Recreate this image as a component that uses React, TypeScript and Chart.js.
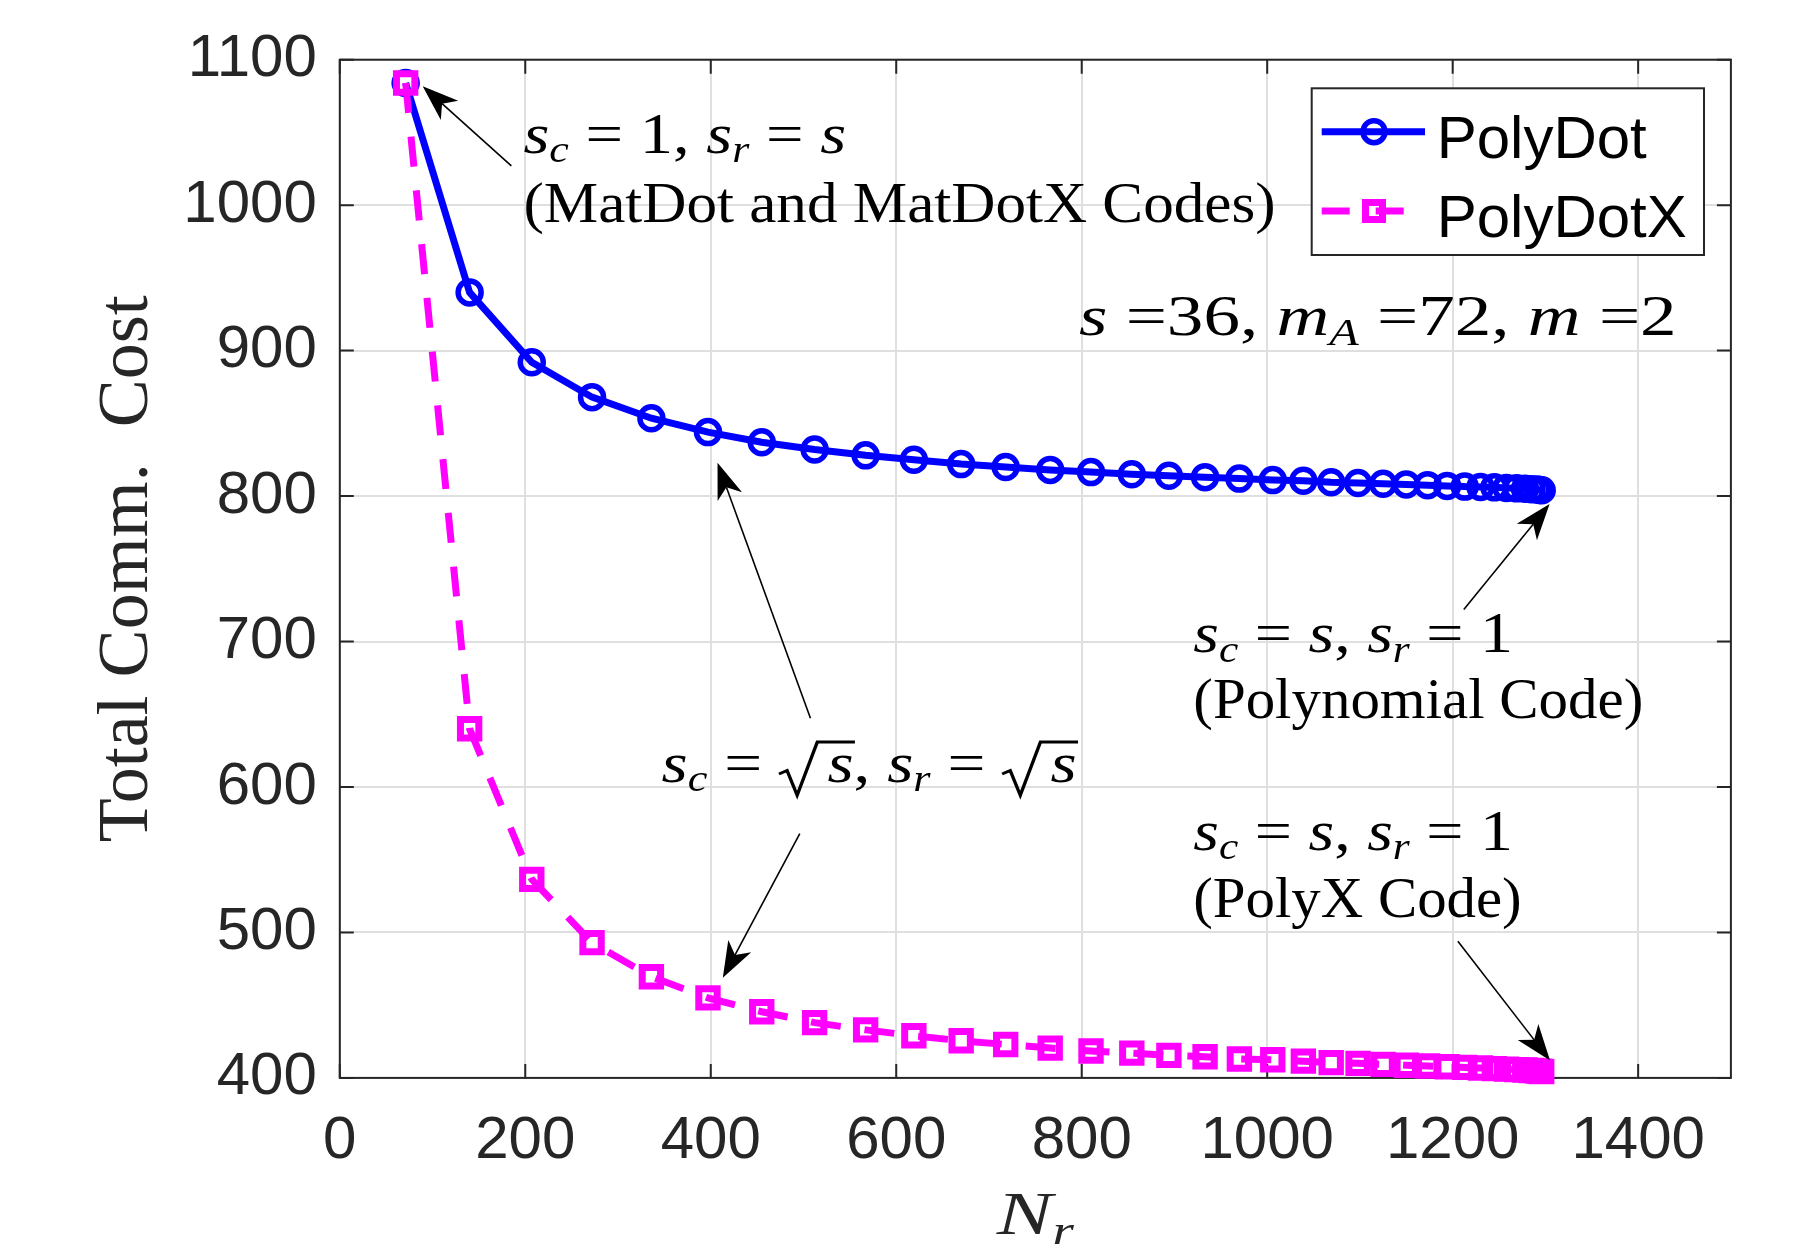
import React, { useEffect, useRef } from 'react';
import { Chart, registerables } from 'chart.js';

Chart.register(...registerables);

// ---------------- data ----------------
const seriesNames = ['PolyDot', 'PolyDotX'];
const nrValues = [71, 140, 207, 272, 336, 397, 455, 512, 567, 619, 670, 718, 766, 810, 854, 894, 933, 970, 1006, 1039, 1069, 1098, 1125, 1150, 1173, 1194, 1213, 1230, 1245, 1258, 1269, 1278, 1285, 1291, 1294, 1296];
const polyDotCost = [1084, 940, 892, 868, 853.5, 844, 837, 832, 828, 825, 822, 820, 818, 816.5, 815, 814, 813, 812, 811, 810.5, 809.5, 809, 808.5, 808, 807.5, 807, 806.5, 806.3, 806, 805.6, 805.3, 805, 804.7, 804.5, 804.2, 804];
const polyDotXCost = [1084, 640, 536.5, 493, 469.5, 455, 445.5, 438, 433, 429, 425.5, 423, 420.5, 418.5, 417, 415.5, 414.5, 413, 412.5, 411.5, 410.5, 410, 409.3, 408.7, 408.2, 407.7, 407.2, 406.8, 406.4, 406, 405.7, 405.4, 405.1, 404.8, 404.6, 404.3];
const xTickValues = [0, 200, 400, 600, 800, 1000, 1200, 1400];
const yTickValues = [400, 500, 600, 700, 800, 900, 1000, 1100];
const xAxisRange = [0, 1500];
const yAxisRange = [400, 1100];
const yAxisTitle = 'Total Comm.  Cost';

// ---------------- styles ----------------
const BLUE = '#0000ff';
const MAGENTA = '#ff00ff';
const INK = '#262626';
const GRID = '#dfdfdf';
const SERIF = '"Liberation Serif", "Times New Roman", serif';
const SANS = '"Liberation Sans", Arial, sans-serif';
const TICK = 14;
const ANN_FONT = 56;
const DASH = [30, 24];

type Seg = { t: string; it?: boolean; sub?: boolean; sqrt?: boolean };
const M = (t: string): Seg => ({ t, it: true });
const S = (t: string): Seg => ({ t, it: true, sub: true });
const R = (t: string): Seg => ({ t });
const Q = (t: string): Seg => ({ t, it: true, sqrt: true });

// annotation text lines: start/end x and baseline y in data units
const textLines = [
  { segs: [M('s'), S('c'), R(' = 1, '), M('s'), S('r'), R(' = '), M('s')], from: 198, to: 546, at: 1035.9 },
  { segs: [R('(MatDot and MatDotX Codes)')], from: 198, to: 1009, at: 988.6 },
  { segs: [M('s'), R(' =36, '), M('m'), S('A'), R(' =72, '), M('m'), R(' =2')], from: 797, to: 1441.5, at: 910.7 },
  { segs: [M('s'), S('c'), R(' = '), M('s'), R(', '), M('s'), S('r'), R(' = 1')], from: 920.3, to: 1265, at: 692.6 },
  { segs: [R('(Polynomial Code)')], from: 920.3, to: 1405.5, at: 647.2 },
  { segs: [M('s'), S('c'), R(' = '), Q('s'), R(', '), M('s'), S('r'), R(' = '), Q('s')], from: 347, to: 794.6, at: 603.6 },
  { segs: [M('s'), S('c'), R(' = '), M('s'), R(', '), M('s'), S('r'), R(' = 1')], from: 920.3, to: 1265, at: 556.8 },
  { segs: [R('(PolyX Code)')], from: 920.3, to: 1274.4, at: 510.8 },
];

const arrowList = [
  { from: [185, 1027], to: [89.4, 1081.7] },
  { from: [507.5, 647.2], to: [407.3, 822.9] },
  { from: [496, 568], to: [413, 468.8] },
  { from: [1212, 722], to: [1304.5, 794.5] },
  { from: [1205.6, 494], to: [1305, 412] },
];

function segFont(s: Seg, F: number) {
  const size = s.sub ? F * 0.66 : F;
  return `${s.it ? 'italic ' : ''}${size}px ${SERIF}`;
}
const RAD_W = 0.72;

function measureSegs(ctx: CanvasRenderingContext2D, segs: Seg[], F: number) {
  let w = 0;
  for (const s of segs) {
    ctx.font = segFont(s, F);
    if (s.sqrt) w += F * RAD_W;
    w += ctx.measureText(s.t).width;
  }
  return w;
}

function drawSegs(ctx: CanvasRenderingContext2D, segs: Seg[], x: number, y: number, F: number, targetW?: number) {
  const natural = measureSegs(ctx, segs, F);
  const sx = targetW ? targetW / natural : 1;
  ctx.save();
  ctx.translate(x, y);
  ctx.scale(sx, 1);
  ctx.textBaseline = 'alphabetic';
  ctx.textAlign = 'left';
  let cx = 0;
  for (const s of segs) {
    ctx.font = segFont(s, F);
    const w = ctx.measureText(s.t).width;
    if (s.sqrt) {
      ctx.beginPath();
      ctx.lineWidth = F * 0.05;
      ctx.lineJoin = 'miter';
      ctx.moveTo(cx, -0.14 * F);
      ctx.lineTo(cx + 0.12 * F, -0.2 * F);
      ctx.lineTo(cx + 0.27 * F, 0.24 * F);
      ctx.lineTo(cx + 0.57 * F, -0.71 * F);
      ctx.lineTo(cx + F * RAD_W + w + 0.02 * F, -0.71 * F);
      ctx.stroke();
      cx += F * RAD_W;
    }
    ctx.fillText(s.t, cx, s.sub ? F * 0.17 : 0);
    cx += w;
  }
  ctx.restore();
}

function drawArrow(ctx: CanvasRenderingContext2D, x1: number, y1: number, x2: number, y2: number) {
  const ang = Math.atan2(y2 - y1, x2 - x1);
  const c = Math.cos(ang), s = Math.sin(ang);
  const L = 36, W = 13, N = 26;
  ctx.beginPath();
  ctx.moveTo(x1, y1);
  ctx.lineTo(x2 - c * N, y2 - s * N);
  ctx.lineWidth = 1.6;
  ctx.stroke();
  ctx.beginPath();
  ctx.moveTo(x2, y2);
  ctx.lineTo(x2 - c * L - s * W, y2 - s * L + c * W);
  ctx.lineTo(x2 - c * N, y2 - s * N);
  ctx.lineTo(x2 - c * L + s * W, y2 - s * L - c * W);
  ctx.closePath();
  ctx.fill();
}

const overlayPlugin = {
  id: 'overlay',
  beforeDatasetsDraw(chart: any) {
    const { ctx, chartArea: a, scales } = chart;
    ctx.save();
    ctx.strokeStyle = INK;
    ctx.lineWidth = 2;
    ctx.strokeRect(a.left, a.top, a.right - a.left, a.bottom - a.top);
    ctx.beginPath();
    for (const v of xTickValues) {
      const px = scales.x.getPixelForValue(v);
      ctx.moveTo(px, a.bottom); ctx.lineTo(px, a.bottom - TICK);
      ctx.moveTo(px, a.top); ctx.lineTo(px, a.top + TICK);
    }
    for (const v of yTickValues) {
      const py = scales.y.getPixelForValue(v);
      ctx.moveTo(a.left, py); ctx.lineTo(a.left + TICK, py);
      ctx.moveTo(a.right, py); ctx.lineTo(a.right - TICK, py);
    }
    ctx.stroke();
    ctx.restore();
  },
  afterDraw(chart: any) {
    const { ctx, chartArea: a, scales } = chart;
    const X = (v: number) => scales.x.getPixelForValue(v);
    const Y = (v: number) => scales.y.getPixelForValue(v);
    ctx.save();
    // annotations
    ctx.fillStyle = '#000';
    ctx.strokeStyle = '#000';
    for (const ln of textLines) {
      const x0 = X(ln.from), x1 = X(ln.to);
      drawSegs(ctx, ln.segs, x0, Y(ln.at), ANN_FONT, x1 - x0);
    }
    for (const ar of arrowList) {
      drawArrow(ctx, X(ar.from[0]), Y(ar.from[1]), X(ar.to[0]), Y(ar.to[1]));
    }
    // x-axis title N_r
    ctx.fillStyle = INK;
    const xt: Seg[] = [M('N'), S('r')];
    const F = 62;
    const tw = 77;
    const cx = (a.left + a.right) / 2;
    drawSegs(ctx, xt, cx - tw / 2, a.bottom + 156, F, tw);

    // legend
    const lg = { left: 1311.7, top: 88.3, right: 1704, bottom: 255 };
    ctx.fillStyle = '#fff';
    ctx.fillRect(lg.left, lg.top, lg.right - lg.left, lg.bottom - lg.top);
    ctx.strokeStyle = INK;
    ctx.lineWidth = 2;
    ctx.strokeRect(lg.left, lg.top, lg.right - lg.left, lg.bottom - lg.top);
    const lx0 = 1321.7, lx1 = 1425, mx = 1374, tx = 1436.7;
    // row 1
    ctx.strokeStyle = BLUE;
    ctx.lineWidth = 7;
    ctx.beginPath(); ctx.moveTo(lx0, 131.7); ctx.lineTo(lx1, 131.7); ctx.stroke();
    ctx.lineWidth = 5.5;
    ctx.beginPath(); ctx.arc(mx, 131.7, 11, 0, Math.PI * 2); ctx.stroke();
    // row 2
    ctx.strokeStyle = MAGENTA;
    ctx.lineWidth = 7;
    ctx.setLineDash([28, 26]);
    ctx.beginPath(); ctx.moveTo(lx0, 211); ctx.lineTo(lx1 - 20, 211); ctx.stroke();
    ctx.setLineDash([]);
    ctx.lineWidth = 7;
    ctx.strokeRect(mx - 8.5, 211 - 8.5, 17, 17);
    ctx.fillStyle = '#000';
    ctx.font = `60px ${SANS}`;
    ctx.textBaseline = 'alphabetic';
    ctx.textAlign = 'left';
    ctx.fillText(seriesNames[0], tx, 158.3);
    ctx.fillText(seriesNames[1], tx, 236.7);
    ctx.restore();
  },
};

const plainTick = (v: any) => String(v);

export default function App() {
  const ref = useRef<HTMLCanvasElement>(null);
  useEffect(() => {
    const canvas = ref.current!;
    const chart = new Chart(canvas, {
      type: 'scatter',
      data: {
        datasets: [
          {
            label: seriesNames[0],
            data: nrValues.map((x, i) => ({ x, y: polyDotCost[i] })),
            showLine: true,
            borderColor: BLUE,
            backgroundColor: 'rgba(0,0,0,0)',
            borderWidth: 7,
            pointStyle: 'circle',
            pointRadius: 11.5,
            pointBorderWidth: 5.5,
            pointBorderColor: BLUE,
            pointBackgroundColor: 'rgba(0,0,0,0)',
            clip: false,
            order: 2,
          } as any,
          {
            label: seriesNames[1],
            data: nrValues.map((x, i) => ({ x, y: polyDotXCost[i] })),
            showLine: true,
            borderColor: MAGENTA,
            backgroundColor: 'rgba(0,0,0,0)',
            borderWidth: 7,
            borderDash: DASH,
            pointStyle: 'rect',
            pointRadius: 13,
            pointBorderWidth: 7,
            pointBorderColor: MAGENTA,
            pointBackgroundColor: 'rgba(0,0,0,0)',
            clip: false,
            order: 1,
          } as any,
        ],
      },
      options: {
        responsive: false,
        animation: false,
        layout: { padding: { left: 0, top: 59.7, right: 69.1, bottom: 0 } },
        plugins: { legend: { display: false }, tooltip: { enabled: false } },
        scales: {
          x: {
            type: 'linear',
            min: xAxisRange[0],
            max: xAxisRange[1],
            afterBuildTicks: (axis: any) => { axis.ticks = xTickValues.map((v) => ({ value: v })); },
            afterFit: (axis: any) => { axis.height = 171.1; },
            grid: { color: GRID, lineWidth: 2, drawTicks: false },
            border: { display: false },
            ticks: { font: { family: SANS, size: 60, lineHeight: 1.2 }, color: INK, padding: 28, maxRotation: 0, autoSkip: false, callback: plainTick },
          },
          y: {
            type: 'linear',
            min: yAxisRange[0],
            max: yAxisRange[1],
            afterBuildTicks: (axis: any) => { axis.ticks = yTickValues.map((v) => ({ value: v })); },
            afterFit: (axis: any) => { axis.width = 339.8; },
            grid: { color: GRID, lineWidth: 2, drawTicks: false },
            border: { display: false },
            ticks: { font: { family: SANS, size: 60, lineHeight: 1.2 }, color: INK, padding: 23, autoSkip: false, callback: plainTick },
            title: {
              display: true,
              text: yAxisTitle,
              color: INK,
              font: { family: SERIF, size: 72, lineHeight: 1.2 },
              padding: { top: 84.5, bottom: 0 },
            },
          },
        },
      },
      plugins: [overlayPlugin],
    });
    return () => chart.destroy();
  }, []);
  return (
    <div style={{ position: 'absolute', left: 0, top: 0, width: 1800, height: 1249, background: '#fff' }}>
      <canvas ref={ref} width={1800} height={1249} style={{ display: 'block', width: 1800, height: 1249 }} />
    </div>
  );
}
